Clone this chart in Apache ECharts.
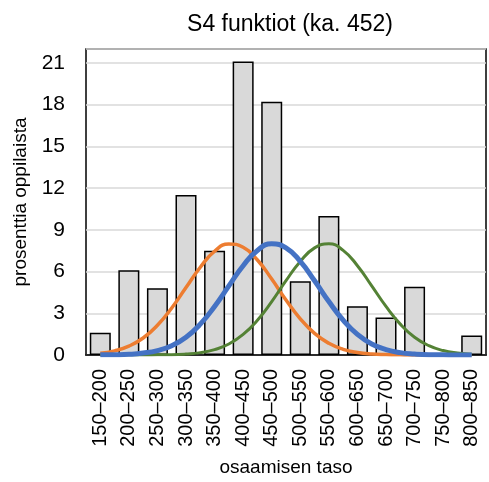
<!DOCTYPE html>
<html>
<head>
<meta charset="utf-8">
<script src="https://cdn.jsdelivr.net/npm/echarts@6/dist/echarts.min.js"></script>
<style>
html,body{margin:0;padding:0;background:#fff;}
#c{width:489px;height:482px;}
</style>
</head>
<body>
<div id="c"></div>
<script>
var categories = ['150–200','200–250','250–300','300–350','350–400','400–450','450–500','500–550','550–600','600–650','650–700','700–750','750–800','800–850'];
var barValues = [1.6, 6.1, 4.8, 11.5, 7.5, 21.1, 18.2, 5.3, 10.0, 3.5, 2.7, 4.9, 0, 1.4];
var yTicks = [0, 3, 6, 9, 12, 15, 18, 21];

var curveX = [175,200,225,250,275,300,325,350,375,400,425,450,475,500,525,550,575,600,625,650,675,700,725,750,775,800,825];
var orangeCurve = [0.13,0.30,0.64,1.22,2.14,3.38,4.85,6.31,7.46,7.98,7.75,6.83,5.46,3.95,2.60,1.55,0.84,0.41,0.18,0.07,0.03,0.01,0,0,0,0,0];
var blueCurve = [0.01,0.02,0.05,0.14,0.32,0.67,1.28,2.22,3.49,4.97,6.42,7.52,7.99,7.70,6.73,5.34,3.84,2.50,1.48,0.79,0.39,0.17,0.07,0.02,0.01,0,0];
var greenCurve = [0,0,0,0,0.01,0.02,0.07,0.17,0.39,0.79,1.48,2.50,3.84,5.34,6.73,7.70,7.99,7.52,6.42,4.97,3.49,2.22,1.28,0.67,0.32,0.14,0.05];

function pairs(xs, ys){ return xs.map(function(x,i){ return [x, ys[i]]; }); }

var FONT = 'Liberation Sans, Arial, sans-serif';
var chart = echarts.init(document.getElementById('c'), null, {renderer:'canvas'});
chart.setOption({
  animation: false,
  backgroundColor: '#fff',
  title: {
    text: 'S4 funktiot (ka. 452)',
    left: 285, textAlign: 'center', top: 8,
    textStyle: {fontFamily: FONT, fontSize: 23, fontWeight: 'normal', color: '#000'}
  },
  grid: {left: 86, right: 3, top: 49, bottom: 127, show: true, borderColor: '#000', borderWidth: 1.5, backgroundColor: 'transparent'},
  xAxis: [{
    type: 'category', data: categories, boundaryGap: true,
    axisLine: {show: true, lineStyle: {color: '#000', width: 1.5}},
    axisTick: {show: false},
    axisLabel: {rotate: 90, margin: 14, interval: 0, fontFamily: FONT, fontSize: 20, color: '#000'},
    name: 'osaamisen taso', nameLocation: 'middle', nameGap: 103,
    nameTextStyle: {fontFamily: FONT, fontSize: 19, color: '#000'}
  }, {
    type: 'value', min: 150, max: 850, show: false
  }],
  yAxis: {
    type: 'value', min: yTicks[0], max: 22, interval: 3,
    axisLine: {show: false}, axisTick: {show: false},
    axisLabel: {showMaxLabel: false, margin: 21, fontFamily: FONT, fontSize: 21, color: '#000'},
    splitLine: {show: true, lineStyle: {color: '#d9d9d9', width: 1.5}},
    name: 'prosenttia oppilaista', nameLocation: 'middle', nameGap: 53,
    nameTextStyle: {fontFamily: FONT, fontSize: 19, color: '#000'}
  },
  series: [{
    type: 'bar', data: barValues, barWidth: 21, xAxisIndex: 0,
    itemStyle: {color: '#d9d9d9', borderColor: '#000', borderWidth: 1.5}
  }, {
    type: 'line', xAxisIndex: 1, data: pairs(curveX, orangeCurve), smooth: true, showSymbol: false,
    lineStyle: {color: '#ed7d31', width: 3.5}
  }, {
    type: 'line', xAxisIndex: 1, data: pairs(curveX, greenCurve), smooth: true, showSymbol: false,
    lineStyle: {color: '#548235', width: 3}
  }, {
    type: 'line', xAxisIndex: 1, data: pairs(curveX, blueCurve), smooth: true, showSymbol: false,
    lineStyle: {color: '#4472c4', width: 5}
  }]
});
</script>
</body>
</html>
